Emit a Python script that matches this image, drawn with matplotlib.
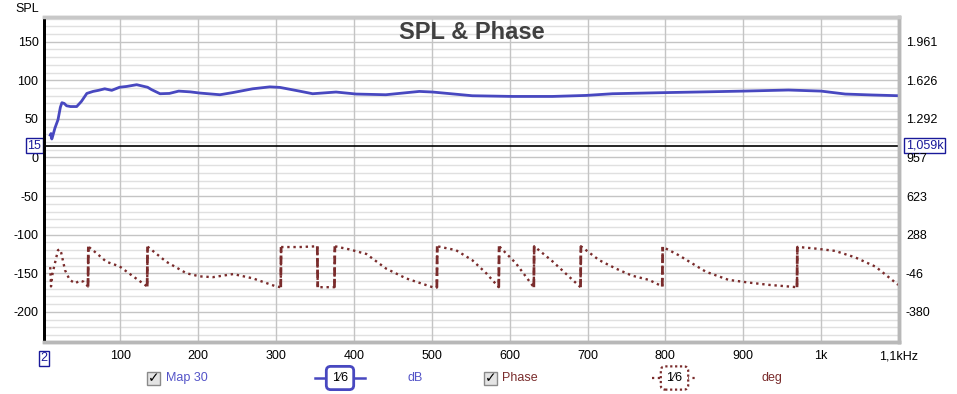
import numpy as np
import matplotlib.pyplot as plt
from matplotlib.patches import Rectangle
import matplotlib.transforms as mtransforms

plt.rcParams['font.family'] = ['Liberation Sans', 'DejaVu Sans']

# SPL curve (left axis units)
spl_freq = [10, 11, 12, 13, 16, 20, 23, 25, 28, 31, 36, 44, 50, 57, 65, 72, 80, 89,
            99, 108, 121, 135, 140, 151, 163, 175, 190, 202, 228, 244, 270, 292, 305,
            330, 347, 377, 403, 441, 484, 501, 552, 604, 655, 698, 732, 792, 850,
            900, 958, 1000, 1031, 1065, 1100]
spl_vals = [29, 31, 24, 27, 38, 49, 65, 71, 70, 67, 66, 66, 72.6, 83, 85.6, 87, 89, 87,
            91, 92, 94.3, 91, 88, 82.6, 83, 86, 85, 83.5, 81.3, 84, 89, 91.5, 90.8,
            86, 82.6, 84.8, 82.2, 81.3, 85.6, 84.8, 80, 79.1, 79.1, 80.4, 82.6, 83.9, 85,
            86, 87.4, 86, 82.2, 81, 80]

# Phase curve (plotted in left axis units, wraps show as vertical jumps)
ph_freq = [10, 11, 13, 16, 20, 22.5, 24, 29, 35, 42, 48, 53, 58.5, 59, 69.5, 82, 99,
           116.5, 134.5, 135, 159, 185, 202, 219, 245, 270, 300, 306, 306.5, 330, 353,
           353.5, 375, 375.5, 394, 416, 441, 467, 501, 506.5, 507, 531, 552, 570, 586,
           586.5, 608, 631, 631.5, 655, 691, 691.5, 715, 736, 757, 779, 796, 796.5, 817,
           852, 881, 907, 933, 969, 969.5, 993, 1018, 1044, 1070, 1099]
ph_vals = [-142, -167, -150, -137, -120, -119, -123, -146, -158.5, -163, -159.5, -161,
           -167, -115.5, -124, -135, -141, -154, -167, -115.5, -135, -150, -154, -155,
           -151, -156.5, -167, -168, -116, -116, -115, -168, -168, -115, -119, -125,
           -143.7, -156.6, -168, -168.5, -115, -120, -133, -150, -168, -115, -137, -168,
           -115, -134.5, -168, -115, -133, -143.7, -153, -158.6, -167, -115.8, -126.5,
           -148, -158.5, -162, -165, -168, -115.8, -118, -121, -129.5, -141.5, -165]

x_ticks = [100, 200, 300, 400, 500, 600, 700, 800, 900, 1000, 1100]
x_labels = ['100', '200', '300', '400', '500', '600', '700', '800', '900', '1k', '1,1kHz']
y_ticks = [150, 100, 50, 0, -50, -100, -150, -200]
right_labels = ['1.961', '1.626', '1.292', '957', '623', '288', '-46', '-380']
cursor_level = 15

blue = '#4848c0'
red = '#7a2c2c'
navy = '#1a1a9a'

fig = plt.figure(figsize=(9.57, 3.94), dpi=100)
ax = fig.add_axes([44 / 957, 1 - 342 / 394, 855 / 957, 325 / 394])
ax.set_xlim(2, 1100)
ax.set_ylim(-239, 182)

# grid
for yv in np.arange(-230, 181, 10):
    c = '#c4c4c4' if yv % 50 == 0 else '#e0e0e0'
    ax.axhline(yv, color=c, lw=1, zorder=0)
for xv in x_ticks:
    ax.axvline(xv, color='#c4c4c4', lw=1, zorder=0)

ax.plot(spl_freq, spl_vals, color=blue, lw=2, zorder=3)

# phase: dotted curve, dashed wrap jumps
pf = np.array(ph_freq)
pv = np.array(ph_vals)
ax.plot(pf, pv, color=red, lw=1.7, ls=(0, (1, 1.6)), zorder=3)
jumps = np.where(np.abs(np.diff(pv)) > 45)[0]
for j in jumps:
    ax.plot(pf[j:j + 2], pv[j:j + 2], color=red, lw=2.0, ls=(0, (3, 1.2)), zorder=3)

ax.axhline(cursor_level, color='black', lw=1.2, zorder=4)

ax.set_xticks(x_ticks)
ax.set_xticklabels(x_labels, fontsize=9)
ax.set_yticks(y_ticks)
ax.set_yticklabels([str(v) for v in y_ticks], fontsize=9)
ax.tick_params(length=0, pad=4)
ax.tick_params(axis='x', pad=6)

ax2 = ax.twinx()
ax2.set_ylim(ax.get_ylim())
ax2.set_yticks(y_ticks)
ax2.set_yticklabels(right_labels, fontsize=9)
ax2.tick_params(length=0, pad=5)

for a in (ax, ax2):
    a.spines['left'].set_color('black')
    a.spines['left'].set_linewidth(2)
    a.spines['bottom'].set_color('#b8b8b8')
    a.spines['bottom'].set_linewidth(2.5)
    a.spines['top'].set_color('#c8c8c8')
    a.spines['top'].set_linewidth(2.5)
    a.spines['right'].set_color('#b8b8b8')
    a.spines['right'].set_linewidth(2.5)

ax.text(0.5, 0.951, 'SPL & Phase', transform=ax.transAxes, ha='center', va='center',
        fontsize=17, fontweight='bold', color='#404040', zorder=5)

fig.text(15 / 957, 1 - 9 / 394, 'SPL', fontsize=9, va='center', ha='left')

# boxed cursor labels
tr = mtransforms.blended_transform_factory(ax.transAxes, ax.transData)
box = dict(boxstyle='square,pad=0.12', fc='white', ec=navy, lw=1)
ax.text(-0.003, cursor_level, str(cursor_level), transform=tr, ha='right', va='center',
        fontsize=9, color=navy, bbox=box, zorder=6, clip_on=False)
ax.text(1.008, cursor_level, '1,059k', transform=tr, ha='left', va='center',
        fontsize=9, color=navy, bbox=box, zorder=6, clip_on=False)
ax.text(0.0, -0.05, '2', transform=ax.transAxes, ha='center', va='center',
        fontsize=9, color=navy, bbox=box, zorder=6, clip_on=False)

# legend row
ly = 1 - 378 / 394


def checkbox(xc):
    w = 13 / 957
    h = 13 / 394
    fig.patches.append(Rectangle((xc - w / 2, ly - h / 2), w, h, transform=fig.transFigure,
                                 fc='#e4e4e4', ec='#8a8a8a', lw=1))
    fig.text(xc, ly, '\u2713', ha='center', va='center', fontsize=10, color='black',
             family=['DejaVu Sans'], fontweight='bold')


checkbox(153.5 / 957)
fig.text(166 / 957, ly, 'Map 30', ha='left', va='center', fontsize=9, color='#5454c8')
fig.lines.append(plt.Line2D([315 / 957, 365 / 957], [ly, ly], transform=fig.transFigure,
                            color=blue, lw=1.8))
fig.text(340 / 957, ly, '1\u20446', ha='center', va='center', fontsize=9, color='black',
         bbox=dict(boxstyle='round,pad=0.45,rounding_size=0.35', fc='white', ec=blue, lw=2))
fig.text(415 / 957, ly, 'dB', ha='center', va='center', fontsize=9, color='#5454c8')

checkbox(490.5 / 957)
fig.text(502 / 957, ly, 'Phase', ha='left', va='center', fontsize=9, color=red)
fig.lines.append(plt.Line2D([652 / 957, 697 / 957], [ly, ly], transform=fig.transFigure,
                            color=red, lw=1.6, ls=(0, (1, 1.6))))
fig.text(674.5 / 957, ly, '1\u20446', ha='center', va='center', fontsize=9, color='black',
         bbox=dict(boxstyle='round,pad=0.45,rounding_size=0.35', fc='white', ec=red, lw=1.6,
                   ls=(0, (1, 1.2))))
fig.text(772 / 957, ly, 'deg', ha='center', va='center', fontsize=9, color=red)

fig.savefig('out.png', dpi=100)
